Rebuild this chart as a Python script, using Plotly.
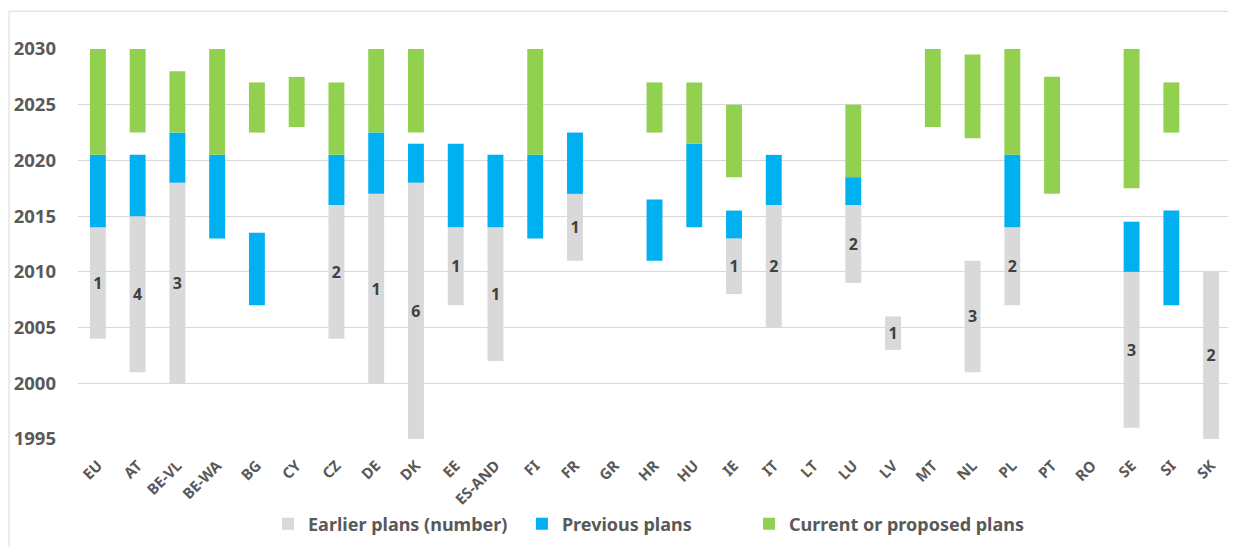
import plotly.graph_objects as go

categories = ["EU", "AT", "BE-VL", "BE-WA", "BG", "CY", "CZ", "DE", "DK", "EE", "ES-AND", "FI", "FR", "GR",
              "HR", "HU", "IE", "IT", "LT", "LU", "LV", "MT", "NL", "PL", "PT", "RO", "SE", "SI", "SK"]

earlier_start = [2004, 2001, 2000, None, None, None, 2004, 2000, 1995, 2007, 2002, None, 2011, None,
                 None, None, 2008, 2005, None, 2009, 2003, None, 2001, 2007, None, None, 1996, None, 1995]
earlier_end = [2014, 2015, 2018, None, None, None, 2016, 2017, 2018, 2014, 2014, None, 2017, None,
               None, None, 2013, 2016, None, 2016, 2006, None, 2011, 2014, None, None, 2010, None, 2010]
earlier_count = [1, 4, 3, None, None, None, 2, 1, 6, 1, 1, None, 1, None,
                 None, None, 1, 2, None, 2, 1, None, 3, 2, None, None, 3, None, 2]

previous_start = [2014, 2015, 2018, 2013, 2007, None, 2016, 2017, 2018, 2014, 2014, 2013, 2017, None,
                  2011, 2014, 2013, 2016, None, 2016, None, None, None, 2014, None, None, 2010, 2007, None]
previous_end = [2020.5, 2020.5, 2022.5, 2020.5, 2013.5, None, 2020.5, 2022.5, 2021.5, 2021.5, 2020.5, 2020.5, 2022.5, None,
                2016.5, 2021.5, 2015.5, 2020.5, None, 2018.5, None, None, None, 2020.5, None, None, 2014.5, 2015.5, None]

current_start = [2020.5, 2022.5, 2022.5, 2020.5, 2022.5, 2023, 2020.5, 2022.5, 2022.5, None, None, 2020.5, None, None,
                 2022.5, 2021.5, 2018.5, None, None, 2018.5, None, 2023, 2022, 2020.5, 2017, None, 2017.5, 2022.5, None]
current_end = [2030, 2030, 2028, 2030, 2027, 2027.5, 2027, 2030, 2030, None, None, 2030, None, None,
               2027, 2027, 2025, None, None, 2025, None, 2030, 2029.5, 2030, 2027.5, None, 2030, 2027, None]

y_ticks = [1995, 2000, 2005, 2010, 2015, 2020, 2025, 2030]


def spans(starts, ends):
    return [None if s is None or e is None else e - s for s, e in zip(starts, ends)]


GRAY = "#d9d9d9"
BLUE = "#00b0f0"
GREEN = "#92d050"
FONT = "Noto Sans"

fig = go.Figure()
fig.add_trace(go.Bar(
    x=categories, y=spans(earlier_start, earlier_end), base=earlier_start,
    name="Earlier plans (number)", marker=dict(color=GRAY, line=dict(width=0)),
    text=["" if c is None else str(c) for c in earlier_count],
    textposition="inside", insidetextanchor="middle", textangle=0,
    textfont=dict(family=FONT, size=16, color="#404040", weight="bold"),
    width=0.4, legend="legend", showlegend=True, hoverinfo="skip",
))
fig.add_trace(go.Bar(
    x=categories, y=spans(previous_start, previous_end), base=previous_start,
    name="Previous plans", marker=dict(color=BLUE, line=dict(width=0)),
    width=0.4, legend="legend2", showlegend=True, hoverinfo="skip",
))
fig.add_trace(go.Bar(
    x=categories, y=spans(current_start, current_end), base=current_start,
    name="Current or proposed plans", marker=dict(color=GREEN, line=dict(width=0)),
    width=0.4, legend="legend3", showlegend=True, hoverinfo="skip",
))

legend_common = dict(orientation="h", yanchor="middle", xanchor="left", y=-0.218,
                     font=dict(family=FONT, size=18, color="#595959", weight="bold"),
                     bgcolor="rgba(0,0,0,0)", itemwidth=30, tracegroupgap=0)

# The page body has an 8px margin, so the figure is 8px smaller than the window.
fig.update_layout(
    width=1228, height=539,
    margin=dict(l=70, r=5, t=41, b=105),
    paper_bgcolor="white", plot_bgcolor="white",
    barmode="overlay", showlegend=True,
    font=dict(family=FONT, color="#595959"),
    legend=dict(x=0.1648, **legend_common),
    legend2=dict(x=0.385, **legend_common),
    legend3=dict(x=0.582, **legend_common),
    xaxis=dict(
        type="category", categoryorder="array", categoryarray=categories,
        tickangle=-45, tickfont=dict(family=FONT, size=15, color="#595959", weight="bold"),
        showgrid=False, showline=False, ticks="", ticklabelstandoff=14,
    ),
    yaxis=dict(
        range=[1995, 2030], tickvals=y_ticks, ticktext=[str(v) for v in y_ticks],
        tickfont=dict(family=FONT, size=18.5, color="#595959", weight="bold"),
        showgrid=True, gridcolor="#d9d9d9", gridwidth=1, zeroline=False, showline=False,
        ticks="", ticklabelstandoff=21,
    ),
    shapes=[
        dict(type="line", xref="paper", yref="paper", x0=-0.0598, x1=-0.0598, y0=-0.4, y1=1.0967,
             line=dict(color="#d9d9d9", width=1), layer="below"),
        dict(type="line", xref="paper", yref="paper", x0=-0.0598, x1=1.01, y0=1.0967, y1=1.0967,
             line=dict(color="#d9d9d9", width=1), layer="below"),
    ],
)

fig.write_html("out.html")
